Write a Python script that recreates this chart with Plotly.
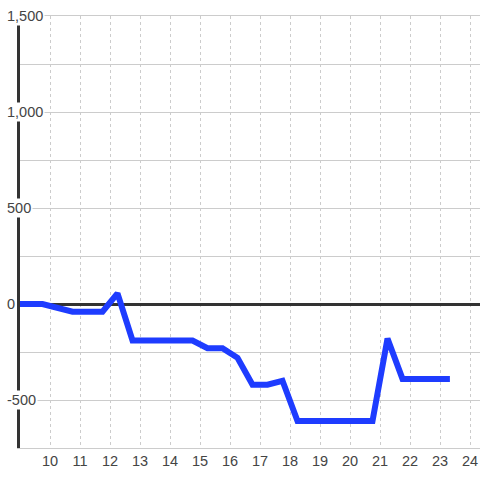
import plotly.graph_objects as go

hours = [9.0, 9.75, 10.75, 11.75, 12.25, 12.75, 14.75, 15.25, 15.75, 16.25,
         16.75, 17.25, 17.75, 18.25, 20.75, 21.25, 21.75, 23.33]
values = [0, 0, -40, -40, 55, -190, -190, -230, -230, -280,
          -420, -420, -400, -610, -610, -180, -390, -390]

x_ticks = list(range(10, 25))
y_grid = [-750, -500, -250, 0, 250, 500, 750, 1000, 1250, 1500]
y_labels = [1500, 1000, 500, 0, -500]

FONT = "Liberation Sans, Arial, sans-serif"

fig = go.Figure()
fig.add_trace(go.Scatter(
    x=hours, y=values, mode="lines",
    line=dict(color="#1e3cff", width=6),
    hoverinfo="skip", showlegend=False,
))

for v in y_labels:
    fig.add_annotation(
        x=0, xref="paper", y=v, yref="y",
        text=f"{v:,}", showarrow=False,
        xanchor="left", xshift=-15,
        font=dict(family=FONT, size=14.5, color="#444"),
        bgcolor="#ffffff", borderpad=1,
    )

fig.update_layout(
    width=480, height=480,
    margin=dict(l=20, r=0, t=16, b=32),
    paper_bgcolor="#ffffff", plot_bgcolor="#ffffff",
    font=dict(family=FONT, size=14.5, color="#444"),
    xaxis=dict(
        range=[9, 24.3333], tickvals=x_ticks, ticktext=[str(t) for t in x_ticks],
        showgrid=True, gridcolor="#cccccc", gridwidth=1, griddash="3px,3px",
        showline=True, linecolor="#cccccc", linewidth=1, mirror=True,
        zeroline=False, ticks="", fixedrange=True,
    ),
    yaxis=dict(
        range=[-750, 1500], tickvals=y_grid, showticklabels=False,
        showgrid=True, gridcolor="#cccccc", gridwidth=1,
        zeroline=True, zerolinecolor="#333333", zerolinewidth=3,
        showline=True, linecolor="#333333", linewidth=3,
        layer="below traces", ticks="", fixedrange=True,
    ),
)

fig.write_html(
    "out.html",
    config={"displayModeBar": False, "staticPlot": True},
    post_script="document.body.style.margin='0';document.body.style.padding='0';",
)
